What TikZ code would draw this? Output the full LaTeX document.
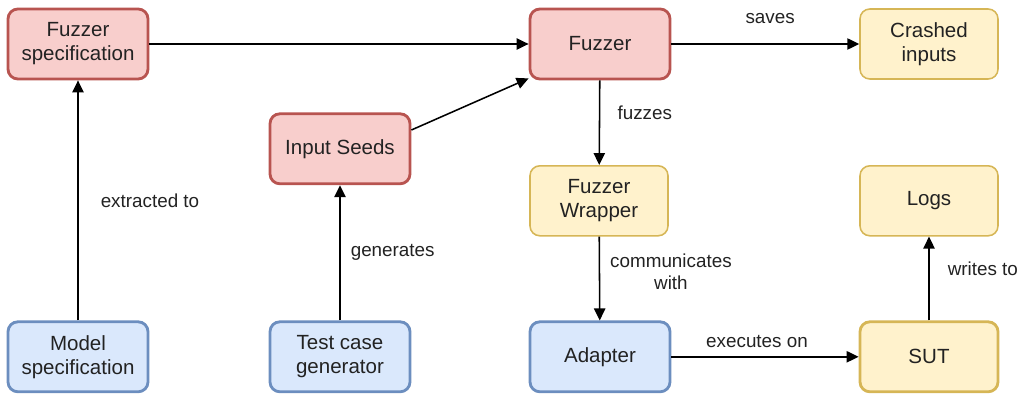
\documentclass[tikz,border=0pt]{standalone}
\usepackage{fontspec}
\setmainfont{Liberation Sans}
\usetikzlibrary{arrows.meta,positioning,calc}

\definecolor{redfill}{HTML}{F8CECC}
\definecolor{redline}{HTML}{B85450}
\definecolor{yelfill}{HTML}{FFF2CC}
\definecolor{yelline}{HTML}{D6B656}
\definecolor{bluefill}{HTML}{DAE8FC}
\definecolor{blueline}{HTML}{6C8EBF}
\definecolor{txt}{HTML}{222222}

\begin{document}
\begin{tikzpicture}[
  font=\fontsize{14.6}{17}\selectfont,
  box/.style={
    draw,
    rounded corners=7pt,
    align=center,
    inner sep=3pt,
    minimum width=3.5cm,
    minimum height=1.75cm,
    text=txt,
  },
  redbox/.style={box, fill=redfill, draw=redline, line width=2pt},
  yelbox/.style={box, fill=yelfill, draw=yelline, line width=1.1pt},
  bluebox/.style={box, fill=bluefill, draw=blueline, line width=2pt},
  lbl/.style={
    font=\fontsize{13.4}{16}\selectfont,
    text=txt,
    inner sep=0pt,
    align=center,
  },
  arr/.style={
    -{Triangle[length=8.5pt,width=8pt]},
    line width=1.1pt,
  },
]
  \useasboundingbox (0,0) rectangle (25.5,-9.85);
  % Top row
  \node[redbox] (fspec) at (1.95,-1.1) {Fuzzer\\specification};
  \node[redbox] (fuzz) at (15.0,-1.1) {Fuzzer};
  \node[yelbox, minimum width=3.45cm] (crash) at (23.225,-1.1) {Crashed\\inputs};
  % Middle row
  \node[redbox] (seeds) at (8.5,-3.72) {Input Seeds};
  \node[yelbox, minimum width=3.45cm] (wrap) at (14.975,-5.02) {Fuzzer\\Wrapper};
  \node[yelbox, minimum width=3.45cm] (logs) at (23.225,-5.02) {Logs};
  % Bottom row
  \node[bluebox] (model) at (1.95,-8.92) {Model\\specification};
  \node[bluebox] (gen) at (8.5,-8.92) {Test case\\generator};
  \node[bluebox] (adapt) at (15.0,-8.92) {Adapter};
  \node[yelbox, minimum width=3.45cm, line width=2pt] (sut) at (23.225,-8.92) {SUT};
  % Connectors
  \draw[arr] (model) -- node[lbl, anchor=west, xshift=0.55cm] {extracted to} (fspec);
  \draw[arr] (gen) -- node[lbl, anchor=west, xshift=0.25cm] {generates} (seeds);
  \draw[arr] (fspec) -- (fuzz);
  \draw[arr] ($(seeds.east)+(0,0.47)$) -- ($(fuzz.south west)+(0,0.05)$);
  \draw[arr] (fuzz) -- node[lbl, above, yshift=0.48cm, xshift=0.12cm] {saves} (crash);
  \draw[arr] (fuzz) -- node[lbl, pos=0.38, anchor=west, xshift=0.43cm] {fuzzes} (wrap);
  \draw[arr] (wrap) -- node[lbl, pos=0.42, anchor=west, xshift=0.25cm] {communicates\\with} (adapt);
  \draw[arr] (adapt) -- node[lbl, above, yshift=0.2cm, xshift=-0.2cm] {executes on} (sut);
  \draw[arr] (sut) -- node[lbl, pos=0.62, anchor=west, xshift=0.45cm] {writes to} (logs);
\end{tikzpicture}
\end{document}
